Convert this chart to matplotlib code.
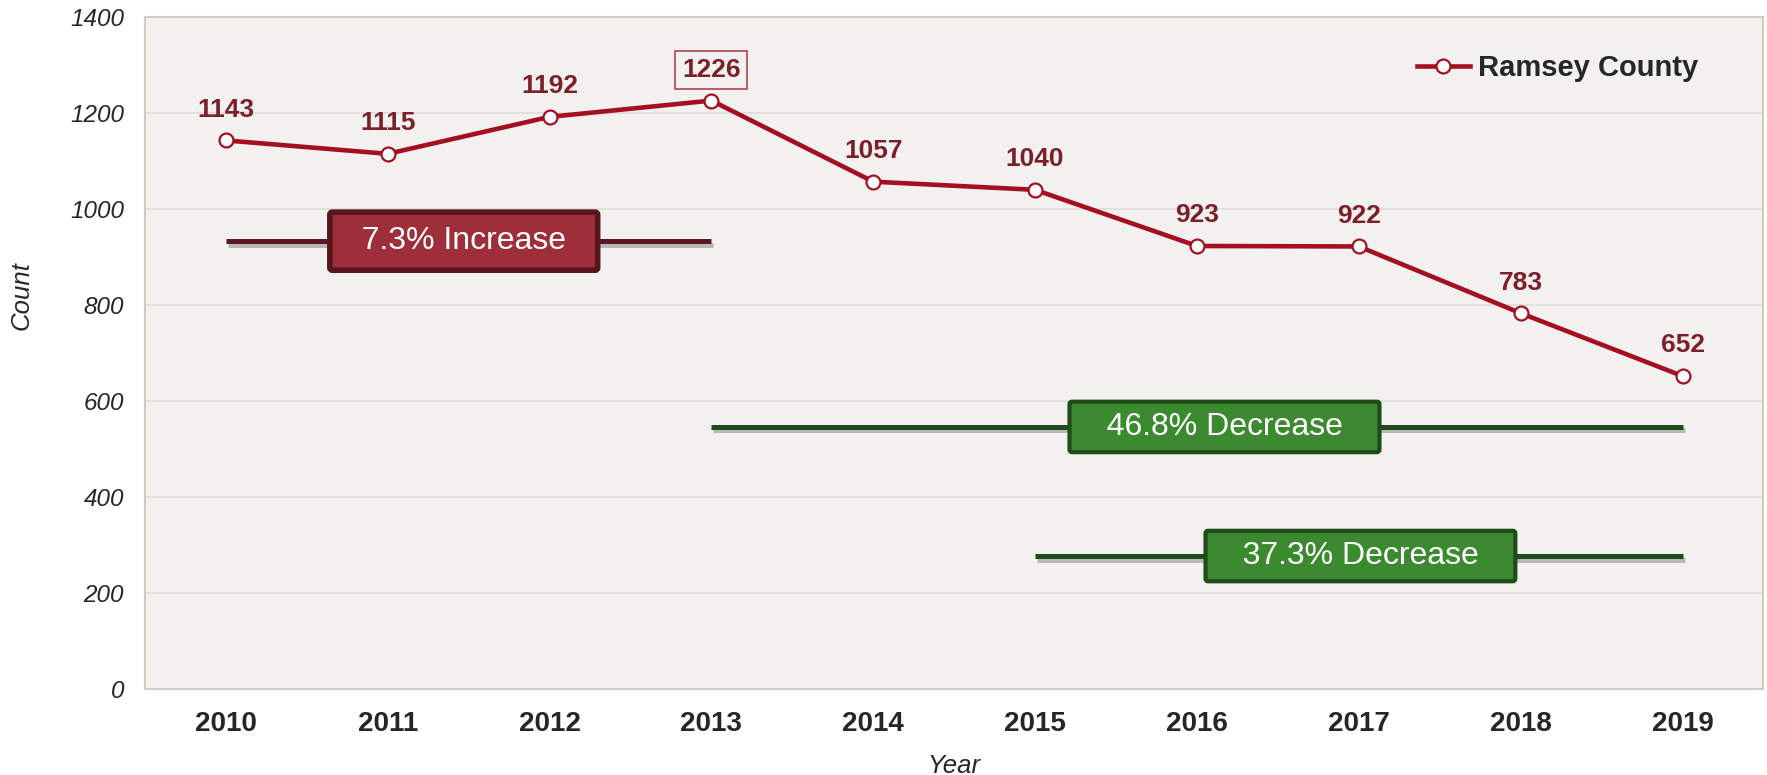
import matplotlib.pyplot as plt
import matplotlib.patheffects as pe

plt.rcParams['font.family'] = ['Liberation Sans', 'DejaVu Sans']

years = ['2010', '2011', '2012', '2013', '2014', '2015', '2016', '2017', '2018', '2019']
counts = [1143, 1115, 1192, 1226, 1057, 1040, 923, 922, 783, 652]
series_name = 'Ramsey County'
yticks = [0, 200, 400, 600, 800, 1000, 1200, 1400]

# change callouts: start index, end index, level, box centre, text
change_start = [0, 3, 5]
change_end = [3, 9, 9]
change_level = [933, 546, 277]
change_box_x = [1.47, 6.17, 7.01]
change_text = ['7.3% Increase', '46.8% Decrease', '37.3% Decrease']
change_kind = ['up', 'down', 'down']

line_col = '#a50f22'
label_col = '#7b1f2b'
style = {
    'up': dict(line='#5a1820', face='#9e2f3a', edge='#55161e', lw=4.0, pad=0.44, sp=2),
    'down': dict(line='#1f4a1a', face='#3c8a30', edge='#1f4a1a', lw=3.0, pad=0.32, sp=3),
}

fig = plt.figure(figsize=(17.67, 7.75), dpi=100)
ax = fig.add_axes([0.082, 0.111, 0.916, 0.867])
ax.set_facecolor('#f3f1ef')

x = list(range(len(years)))
ax.plot(x, counts, color=line_col, lw=3.3, marker='o', ms=10,
        mfc='white', mec=line_col, mew=1.6, label=series_name, zorder=5)

top = counts.index(max(counts))
for i, v in enumerate(counts):
    kw = {}
    if i == top:
        kw['bbox'] = dict(boxstyle='square,pad=0.25', fc='none', ec='#b04450', lw=1.2)
    ax.annotate(str(v), (i, v), xytext=(0, 22), textcoords='offset points',
                ha='center', va='center', fontsize=19, fontweight='bold',
                color=label_col, zorder=6, **kw)

for s, e, lvl, bx, txt, k in zip(change_start, change_end, change_level,
                                 change_box_x, change_text, change_kind):
    st = style[k]
    pad_sp = '\u00a0' * st['sp']
    ax.plot([s, e], [lvl, lvl], color=st['line'], lw=3.6, solid_capstyle='butt', zorder=3,
            path_effects=[pe.SimpleLineShadow(offset=(1.5, -2.5), shadow_color='gray', alpha=0.5),
                          pe.Normal()])
    ax.text(bx, lvl, pad_sp + txt + pad_sp, ha='center', va='center',
            fontsize=23, color='white', zorder=4,
            bbox=dict(boxstyle='round,pad=%.2f,rounding_size=0.08' % st['pad'], fc=st['face'],
                      ec=st['edge'], lw=st['lw']))

ax.set_xlim(-0.5, len(years) - 0.5)
ax.set_ylim(0, 1400)
ax.set_xticks(x)
ax.set_xticklabels(years, fontsize=20, fontweight='bold', color='#262626')
ax.set_yticks(yticks)
ax.set_yticklabels([str(t) for t in yticks], fontsize=17.5, style='italic', color='#262626')
ax.tick_params(length=0)
ax.tick_params(axis='y', pad=15)
ax.tick_params(axis='x', pad=16)
ax.grid(axis='y', color='#e0dcd8', lw=1.2)
ax.set_axisbelow(True)
for sp in ax.spines.values():
    sp.set_color('#d2c9c1')
    sp.set_linewidth(1.5)

ax.set_ylabel('Count', fontsize=18.5, style='italic', color='#262626')
ax.yaxis.set_label_coords(-0.069, 0.586)
ax.set_xlabel('Year', fontsize=18.5, style='italic', color='#262626', labelpad=12)

leg = ax.legend(loc='upper right', bbox_to_anchor=(0.96, 0.945), frameon=False,
                borderaxespad=0, borderpad=0,
                prop=dict(size=21, weight='bold'), handlelength=1.8, handletextpad=0.3)
for t in leg.get_texts():
    t.set_color('#262626')

plt.savefig('out.png', dpi=100)
